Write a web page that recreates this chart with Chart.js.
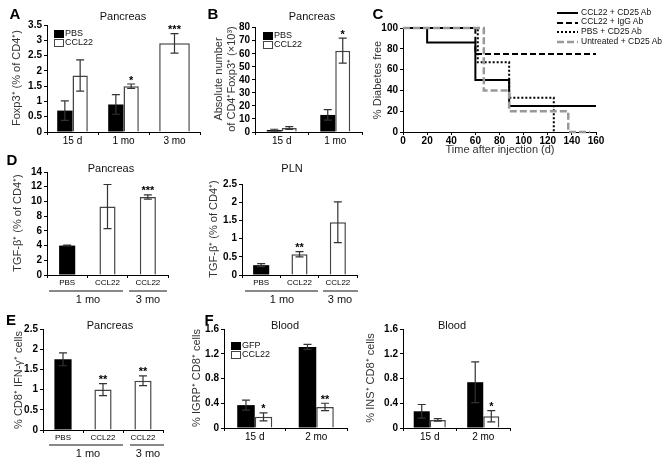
<!DOCTYPE html>
<html>
<head>
<meta charset="utf-8">
<script src="https://cdn.jsdelivr.net/npm/chart.js@4"></script>
<style>
  body { margin: 0; background: #fff; }
  #fig { position: relative; width: 663px; height: 463px; overflow: hidden; background: #fff; }
  #fig canvas { position: absolute; }
  .txt { position: absolute; white-space: pre; font-family: 'Liberation Sans', Arial, sans-serif; font-size: 11px; line-height: 1.15; text-align: center; color: #111; }
  .letter { font-weight: bold; font-size: 15px; color: #000; }
  .ytitle { color: #333; font-size: 11px; }
  .leg { font-size: 9px; text-align: left; transform: none; }
  .box { position: absolute; width: 8px; height: 6px; border: 1px solid #000; }
  .gline { position: absolute; height: 2px; background: #888; }
</style>
</head>
<body>
<div id="fig">
  <canvas id="chartA"></canvas>
  <canvas id="chartB"></canvas>
  <canvas id="chartC"></canvas>
  <canvas id="chartDL"></canvas>
  <canvas id="chartDR"></canvas>
  <canvas id="chartE"></canvas>
  <canvas id="chartFL"></canvas>
  <canvas id="chartFR"></canvas>
</div>
<script>
'use strict';
// ---- data ----
// A: Foxp3+ (% of CD4+), pancreas
const aCats = ['15 d', '1 mo', '3 mo'];
const aTicks = [0, 0.5, 1, 1.5, 2, 2.5, 3, 3.5];
const aPbs = [0.7, 0.9, null];
const aPbsErr = [0.32, 0.32, null];
const aCcl22 = [1.85, 1.5, 2.9];
const aCcl22Err = [0.51, 0.07, 0.32];
const aStars = ['', '*', '***'];

// B: absolute number CD4+Foxp3+ (x10^3)
const bCats = ['15 d', '1 mo'];
const bTicks = [0, 10, 20, 30, 40, 50, 60, 70, 80];
const bPbs = [1.5, 13];
const bPbsErr = [0.6, 4];
const bCcl22 = [3, 62];
const bCcl22Err = [1.1, 9.5];
const bStars = ['', '*'];

// C: % diabetes free (Kaplan-Meier steps)
const cNames = ['CCL22 + CD25 Ab', 'CCL22 + IgG Ab', 'PBS + CD25 Ab', 'Untreated + CD25 Ab'];
const cXTicks = [0, 20, 40, 60, 80, 100, 120, 140, 160];
const cYTicks = [0, 20, 40, 60, 80, 100];
const cDays1 = [0, 20, 60, 88, 160];
const cFree1 = [100, 86, 50, 25, 25];
const cDays2 = [0, 60, 160];
const cFree2 = [100, 75, 75];
const cDays3 = [0, 62, 88, 125];
const cFree3 = [100, 67, 33, 0];
const cDays4 = [0, 67, 88, 137, 155];
const cFree4 = [100, 40, 20, 0, 0];

// D: TGF-b+ (% of CD4+)
const dCats = ['PBS', 'CCL22', 'CCL22'];
const dPancreasTicks = [0, 2, 4, 6, 8, 10, 12, 14];
const dPancreas = [4.0, 9.3, 10.6];
const dPancreasErr = [0.05, 3.0, 0.3];
const dPancreasStars = ['', '', '***'];
const dPlnTicks = [0, 0.5, 1, 1.5, 2, 2.5];
const dPln = [0.27, 0.57, 1.45];
const dPlnErr = [0.04, 0.07, 0.56];
const dPlnStars = ['', '**', ''];

// E: % CD8+ IFN-g+ cells
const eCats = ['PBS', 'CCL22', 'CCL22'];
const eTicks = [0, 0.5, 1, 1.5, 2, 2.5];
const eVals = [1.75, 1.0, 1.22];
const eErr = [0.16, 0.15, 0.12];
const eStars = ['', '**', '**'];

// F: blood
const fCats = ['15 d', '2 mo'];
const fTicks = [0, 0.4, 0.8, 1.2, 1.6];
const fIgrpGfp = [0.37, 1.31];
const fIgrpGfpErr = [0.08, 0.04];
const fIgrpCcl22 = [0.18, 0.34];
const fIgrpCcl22Err = [0.065, 0.06];
const fIgrpStars = ['*', '**'];
const fInsGfp = [0.27, 0.74];
const fInsGfpErr = [0.11, 0.33];
const fInsCcl22 = [0.13, 0.19];
const fInsCcl22Err = [0.02, 0.09];
const fInsStars = ['', '*'];

const FONT = "'Liberation Sans', Arial, sans-serif";
Chart.defaults.font.family = FONT;
Chart.defaults.color = '#000';
Chart.defaults.animation = false;
Chart.defaults.plugins.legend.display = false;
Chart.defaults.plugins.tooltip.enabled = false;

const Y_W = 40, PAD_T = 8, X_H = 18;

function fmt(v) { return String(+(+v).toFixed(2)); }

// error bars + significance stars, drawn through the y scale
const errorBars = {
  id: 'errorBars',
  afterDatasetsDraw(chart) {
    const ctx = chart.ctx;
    const yScale = chart.scales.y;
    chart.data.datasets.forEach((ds, di) => {
      if (!ds.errors) return;
      const meta = chart.getDatasetMeta(di);
      meta.data.forEach((bar, i) => {
        const v = ds.data[i], e = ds.errors[i];
        if (v == null || e == null) return;
        const x = bar.x;
        const yTop = yScale.getPixelForValue(v + e);
        const yBot = yScale.getPixelForValue(Math.max(0, v - e));
        ctx.save();
        ctx.strokeStyle = '#333';
        ctx.lineWidth = 1.2;
        ctx.beginPath();
        ctx.moveTo(x, yTop); ctx.lineTo(x, yBot);
        ctx.moveTo(x - 4, yTop); ctx.lineTo(x + 4, yTop);
        ctx.moveTo(x - 4, yBot); ctx.lineTo(x + 4, yBot);
        ctx.stroke();
        if (ds.stars && ds.stars[i]) {
          ctx.fillStyle = '#000';
          ctx.font = 'bold 11px ' + FONT;
          ctx.textAlign = 'center';
          ctx.textBaseline = 'alphabetic';
          ctx.fillText(ds.stars[i], x, yTop - 0.5);
        }
        ctx.restore();
      });
    });
  }
};

// y tick labels written through the y scale, for the dense axis of B
const yLabels = {
  id: 'yLabels',
  afterDraw(chart, args, opts) {
    if (!opts || !opts.values) return;
    const ctx = chart.ctx;
    const yScale = chart.scales.y;
    ctx.save();
    ctx.fillStyle = '#000';
    ctx.font = 'bold 10px ' + FONT;
    ctx.textAlign = 'right';
    ctx.textBaseline = 'middle';
    opts.values.forEach(v => {
      ctx.fillText(fmt(v), yScale.right - 5, yScale.getPixelForValue(v) + 0.5);
    });
    ctx.restore();
  }
};

// ticks are forced to the values listed at the top
function fixedTicks(values) {
  return s => { s.ticks = values.map(v => ({ value: v })); };
}

function axisY(tickVals, showLabels) {
  return {
    min: tickVals[0], max: tickVals[tickVals.length - 1],
    afterFit: s => { s.width = Y_W; },
    afterBuildTicks: fixedTicks(tickVals),
    ticks: { display: showLabels !== false, padding: 2, autoSkip: false, autoSkipPadding: 0,
      font: { size: 10, weight: 'bold', lineHeight: 1 }, callback: fmt },
    grid: { drawOnChartArea: false, drawTicks: true, tickLength: 3, color: '#000' },
    border: { color: '#000', width: 1 }
  };
}

function axisX(fontSize) {
  return {
    afterFit: s => { s.height = X_H; },
    ticks: { padding: 0, font: { size: fontSize }, maxRotation: 0, autoSkip: false },
    grid: { drawOnChartArea: false, drawTicks: true, tickLength: 3, color: '#000' },
    border: { color: '#000', width: 1 }
  };
}

function place(id, box, padR) {
  const c = document.getElementById(id);
  c.width = box.r - box.l + Y_W + padR;
  c.height = box.b - box.t + PAD_T + X_H;
  c.style.left = (box.l - Y_W) + 'px';
  c.style.top = (box.t - PAD_T) + 'px';
  return c;
}

function barChart(id, box, labels, datasets, yTicks, xFont, catPct, barPct, ownLabels) {
  const c = place(id, box, 6);
  return new Chart(c, {
    type: 'bar',
    data: { labels: labels, datasets: datasets },
    options: {
      responsive: false,
      layout: { padding: { top: PAD_T, right: 6, left: 0, bottom: 0 } },
      datasets: { bar: { categoryPercentage: catPct, barPercentage: barPct, skipNull: true } },
      scales: { x: axisX(xFont), y: axisY(yTicks, !ownLabels) },
      plugins: { yLabels: ownLabels ? { values: yTicks } : {} }
    },
    plugins: [errorBars, yLabels]
  });
}

function blackSet(label, data, errors, stars) {
  return { label, data, errors, stars, backgroundColor: '#000', borderColor: '#000', borderWidth: 0 };
}
function whiteSet(label, data, errors, stars) {
  return { label, data, errors, stars, backgroundColor: '#fff', borderColor: '#444', borderWidth: 1.5 };
}
function mixedSet(label, data, errors, stars) {
  return { label, data, errors, stars,
    backgroundColor: ['#000', '#fff', '#fff'], borderColor: ['#000', '#444', '#444'], borderWidth: [0, 1.5, 1.5] };
}

// A
barChart('chartA', { l: 47, t: 25, r: 200, b: 132 }, aCats,
  [blackSet('PBS', aPbs, aPbsErr), whiteSet('CCL22', aCcl22, aCcl22Err, aStars)],
  aTicks, 10, 0.6, 1.0);

// B (labels of the dense y axis are written by the yLabels plugin)
barChart('chartB', { l: 255, t: 27, r: 362, b: 132 }, bCats,
  [blackSet('PBS', bPbs, bPbsErr), whiteSet('CCL22', bCcl22, bCcl22Err, bStars)],
  bTicks, 10, 0.56, 1.0, true);

// C (step curves)
(function () {
  const box = { l: 403, t: 28, r: 596, b: 132 };
  const c = place('chartC', box, 12);
  const pts = (xs, ys) => xs.map((x, i) => ({ x: x, y: ys[i] }));
  const common = { stepped: true, pointRadius: 0, fill: false, clip: 6, borderWidth: 2 };
  new Chart(c, {
    type: 'line',
    data: {
      datasets: [
        Object.assign({ label: cNames[3], data: pts(cDays4, cFree4), borderColor: '#999', borderDash: [7, 3] }, common, { borderWidth: 2.5 }),
        Object.assign({ label: cNames[2], data: pts(cDays3, cFree3), borderColor: '#000', borderDash: [2, 2] }, common),
        Object.assign({ label: cNames[1], data: pts(cDays2, cFree2), borderColor: '#000', borderDash: [6, 3] }, common),
        Object.assign({ label: cNames[0], data: pts(cDays1, cFree1), borderColor: '#000' }, common)
      ]
    },
    options: {
      responsive: false,
      layout: { padding: { top: PAD_T, right: 12, left: 0, bottom: 0 } },
      scales: {
        x: Object.assign(axisX(10), {
          type: 'linear', min: cXTicks[0], max: cXTicks[cXTicks.length - 1],
          afterBuildTicks: fixedTicks(cXTicks),
          ticks: { padding: 0, autoSkip: false, font: { size: 10, weight: 'bold' }, maxRotation: 0 }
        }),
        y: axisY(cYTicks)
      }
    }
  });
})();

// D
barChart('chartDL', { l: 47, t: 172, r: 168, b: 275 }, dCats,
  [mixedSet('TGF', dPancreas, dPancreasErr, dPancreasStars)], dPancreasTicks, 8, 1.0, 0.4);
barChart('chartDR', { l: 242, t: 184, r: 357, b: 275 }, dCats,
  [mixedSet('TGF', dPln, dPlnErr, dPlnStars)], dPlnTicks, 8, 1.0, 0.42);

// E
barChart('chartE', { l: 43, t: 329, r: 163, b: 430 }, eCats,
  [mixedSet('IFN', eVals, eErr, eStars)], eTicks, 8, 1.0, 0.43);

// F
barChart('chartFL', { l: 224, t: 329, r: 347, b: 428 }, fCats,
  [blackSet('GFP', fIgrpGfp, fIgrpGfpErr), whiteSet('CCL22', fIgrpCcl22, fIgrpCcl22Err, fIgrpStars)],
  fTicks, 10, 0.57, 1.0);
barChart('chartFR', { l: 403, t: 329, r: 510, b: 428 }, fCats,
  [blackSet('GFP', fInsGfp, fInsGfpErr), whiteSet('CCL22', fInsCcl22, fInsCcl22Err, fInsStars)],
  fTicks, 10, 0.6, 1.0);

// ---- text and small decorations ----
const fig = document.getElementById('fig');
function addText(txt, x, y, cls, rot) {
  const d = document.createElement('div');
  d.className = 'txt ' + (cls || '');
  d.textContent = txt;
  d.style.left = x + 'px';
  d.style.top = y + 'px';
  d.style.transform = 'translate(-50%,-50%)' + (rot ? ' rotate(-90deg)' : '');
  fig.appendChild(d);
  return d;
}
function addLegendItem(txt, x, y, fill) {
  const b = document.createElement('div');
  b.className = 'box';
  b.style.left = x + 'px'; b.style.top = y + 'px';
  b.style.background = fill;
  if (fill === '#fff') b.style.borderColor = '#444';
  fig.appendChild(b);
  const t = document.createElement('div');
  t.className = 'txt leg';
  t.textContent = txt;
  t.style.left = (x + 11) + 'px'; t.style.top = (y - 2) + 'px';
  fig.appendChild(t);
}
function addGroupLine(x1, x2, y) {
  const g = document.createElement('div');
  g.className = 'gline';
  g.style.left = x1 + 'px'; g.style.top = y + 'px'; g.style.width = (x2 - x1) + 'px';
  fig.appendChild(g);
}

// panel letters
addText('A', 15, 14, 'letter');
addText('B', 213, 14, 'letter');
addText('C', 378, 14, 'letter');
addText('D', 12, 160, 'letter');
addText('E', 11, 320, 'letter');
addText('F', 209, 320, 'letter');

// titles
addText('Pancreas', 123, 16);
addText('Pancreas', 312, 16);
addText('Pancreas', 111, 168);
addText('PLN', 292, 168);
addText('Pancreas', 110, 325);
addText('Blood', 285, 325);
addText('Blood', 452, 325);

// axis titles
addText('Foxp3\u207A (% of CD4\u207A)', 16, 78, 'ytitle', true);
addText('Absolute number\nof CD4\u207AFoxp3\u207A (\u00D710\u00B3)', 225, 79, 'ytitle', true);
addText('% Diabetes free', 377, 80, 'ytitle', true);
addText('Time after injection (d)', 500, 149, 'ytitle');
addText('TGF-\u03B2\u207A (% of CD4\u207A)', 17, 223, 'ytitle', true);
addText('TGF-\u03B2\u207A (% of CD4\u207A)', 213, 229, 'ytitle', true);
addText('% CD8\u207A IFN-\u03B3\u207A cells', 18, 380, 'ytitle', true);
addText('% IGRP\u207A CD8\u207A cells', 196, 378, 'ytitle', true);
addText('% INS\u207A CD8\u207A cells', 370, 378, 'ytitle', true);

// legends A, B, F
addLegendItem('PBS', 54, 30, '#000');
addLegendItem('CCL22', 54, 39, '#fff');
addLegendItem('PBS', 263, 32, '#000');
addLegendItem('CCL22', 263, 41, '#fff');
addLegendItem('GFP', 231, 342, '#000');
addLegendItem('CCL22', 231, 351, '#fff');

// legend C
const cLegendStyles = [
  { color: '#000', dash: '', w: 2 },
  { color: '#000', dash: '6,3', w: 2 },
  { color: '#000', dash: '2,2', w: 2 },
  { color: '#999', dash: '7,3', w: 2.5 }
];
cNames.forEach((name, i) => {
  const y = 13 + i * 9.7;
  const s = cLegendStyles[i];
  const svg = document.createElementNS('http://www.w3.org/2000/svg', 'svg');
  svg.setAttribute('width', '22'); svg.setAttribute('height', '6');
  svg.style.position = 'absolute';
  svg.style.left = '557px'; svg.style.top = (y - 3) + 'px';
  svg.innerHTML = '<line x1="0" y1="3" x2="21" y2="3" stroke="' + s.color + '" stroke-width="' + s.w +
    '"' + (s.dash ? ' stroke-dasharray="' + s.dash + '"' : '') + '/>';
  fig.appendChild(svg);
  const t = document.createElement('div');
  t.className = 'txt leg';
  t.style.fontSize = '8.5px';
  t.textContent = name;
  t.style.left = '581px'; t.style.top = (y - 5.5) + 'px';
  fig.appendChild(t);
});

// group underlines D and E
addGroupLine(49, 123, 290); addGroupLine(129, 167, 290);
addText('1 mo', 88, 299); addText('3 mo', 148, 299);
addGroupLine(245, 318, 290); addGroupLine(323, 358, 290);
addText('1 mo', 282, 299); addText('3 mo', 340, 299);
addGroupLine(49, 123, 444); addGroupLine(130, 164, 444);
addText('1 mo', 88, 453); addText('3 mo', 148, 453);
</script>
</body>
</html>
